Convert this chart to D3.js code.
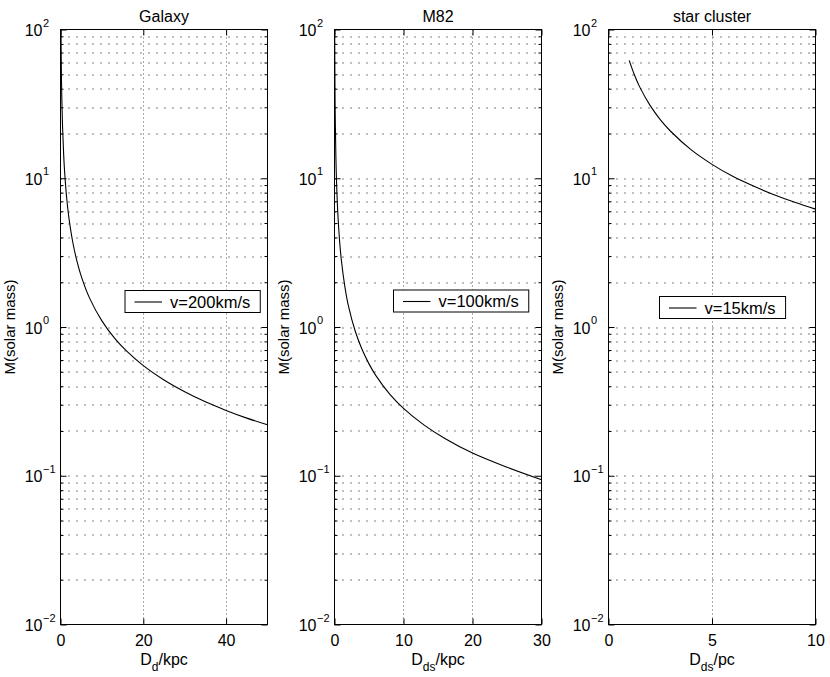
<!DOCTYPE html>
<html>
<head>
<meta charset="utf-8">
<script src="https://cdn.jsdelivr.net/npm/d3@7"></script>
<style>
  body { margin: 0; background: #fff; }
  svg { display: block; font-family: "Liberation Sans", Arial, Helvetica, sans-serif; }
</style>
</head>
<body>
<svg id="chart" width="830" height="677"></svg>
<script>
"use strict";

// Galaxy, v=200km/s
var galaxyD = [0.11, 0.2, 0.3, 0.5, 0.75, 1, 1.5, 2, 3, 4, 5, 7, 10, 13, 16, 20, 25, 30, 35, 40, 45, 50];
var galaxyM = [100, 55, 36.7, 22, 14.7, 11, 7.33, 5.5, 3.67, 2.75, 2.2, 1.57, 1.1, 0.846, 0.688, 0.55, 0.44, 0.367, 0.314, 0.275, 0.244, 0.22];

// M82, v=100km/s
var m82D = [0.028, 0.05, 0.1, 0.2, 0.3, 0.5, 0.75, 1, 1.5, 2, 3, 4, 5, 6, 8, 10, 13, 16, 20, 25, 30];
var m82M = [100, 56, 28, 14, 9.3, 5.6, 3.73, 2.8, 1.87, 1.4, 0.94, 0.705, 0.565, 0.471, 0.354, 0.284, 0.219, 0.178, 0.142, 0.114, 0.094];

// star cluster, v=15km/s
var clusterD = [1, 1.25, 1.5, 2, 2.5, 3, 4, 5, 6, 7, 8, 9, 10];
var clusterM = [62, 49.6, 41.3, 31, 24.8, 20.7, 15.5, 12.4, 10.3, 8.86, 7.75, 6.89, 6.2];

var titles = ["Galaxy", "M82", "star cluster"];
var legendLabels = ["v=200km/s", "v=100km/s", "v=15km/s"];
var xMax = [50, 30, 10];
var xTickValues = [[0, 20, 40], [0, 10, 20, 30], [0, 5, 10]];
var xLabelMain = ["D", "D", "D"];
var xLabelSub = ["d", "ds", "ds"];
var xLabelUnit = ["/kpc", "/kpc", "/pc"];
var yLabel = "M(solar mass)";
var yDomain = [1e-2, 1e2];

var seriesD = [galaxyD, m82D, clusterD];
var seriesM = [galaxyM, m82M, clusterM];

// layout
var plotTop = 29.5, plotW = 207, plotH = 595;
var plotLeft = [60.5, 334.5, 608.5];
var legendAt = [[64.5, 261], [59, 260.5], [51, 267]];

var svg = d3.select("#chart");

function isDecade(v) {
  var l = Math.log10(v);
  return Math.abs(l - Math.round(l)) < 1e-9;
}

for (var p = 0; p < 3; p++) {
  var g = svg.append("g").attr("transform", "translate(" + plotLeft[p] + "," + plotTop + ")");

  var x = d3.scaleLinear().domain([0, xMax[p]]).range([0, plotW]);
  var y = d3.scaleLog().domain(yDomain).range([plotH, 0]);

  var allY = y.ticks();
  var majorY = allY.filter(isDecade);
  var minorY = allY.filter(function (v) { return !isDecade(v); });

  // grid
  g.append("g").selectAll("line").data(allY.filter(function (v) { return v > yDomain[0] && v < yDomain[1]; }))
    .enter().append("line")
      .attr("x1", 0).attr("x2", plotW)
      .attr("y1", function (d) { return Math.round(y(d)) + 0.5; })
      .attr("y2", function (d) { return Math.round(y(d)) + 0.5; })
      .attr("stroke", "#000").attr("stroke-width", 1)
      .attr("stroke-dasharray", "1,7");

  g.append("g").selectAll("line").data(xTickValues[p].filter(function (v) { return v > 0 && v < xMax[p]; }))
    .enter().append("line")
      .attr("x1", function (d) { return Math.round(x(d)); })
      .attr("x2", function (d) { return Math.round(x(d)); })
      .attr("y1", 0).attr("y2", plotH)
      .attr("stroke", "#555").attr("stroke-width", 1)
      .attr("stroke-dasharray", "1,3");

  // ticks, inside on all four sides
  var tickStyle = function (sel) {
    sel.select(".domain").remove();
    sel.selectAll(".tick line").attr("stroke", "#000");
  };
  g.append("g").call(d3.axisLeft(y).tickValues(majorY).tickSize(-6).tickFormat("")).call(tickStyle);
  g.append("g").call(d3.axisLeft(y).tickValues(minorY).tickSize(-3).tickFormat("")).call(tickStyle);
  g.append("g").attr("transform", "translate(" + plotW + ",0)")
    .call(d3.axisRight(y).tickValues(majorY).tickSize(-6).tickFormat("")).call(tickStyle);
  g.append("g").attr("transform", "translate(" + plotW + ",0)")
    .call(d3.axisRight(y).tickValues(minorY).tickSize(-3).tickFormat("")).call(tickStyle);
  g.append("g").call(d3.axisTop(x).tickValues(xTickValues[p]).tickSize(-6).tickFormat("")).call(tickStyle);

  var xAxis = g.append("g").attr("transform", "translate(0," + plotH + ")")
    .call(d3.axisBottom(x).tickValues(xTickValues[p]).tickSize(-6).tickPadding(10).tickFormat(d3.format("d")))
    .call(tickStyle);
  xAxis.selectAll("text")
    .attr("fill", "#000")
    .attr("font-size", 16)
    .attr("font-family", "Liberation Sans, Arial, sans-serif");

  // y tick labels: 10 with superscript exponent
  var yl = g.append("g").selectAll("g").data(majorY).enter().append("g");
  yl.append("text")
    .attr("x", -18).attr("y", function (d) { return y(d) + 6.5; })
    .attr("text-anchor", "end").attr("font-size", 16)
    .text("10");
  yl.append("text")
    .attr("x", -17.5).attr("y", function (d) { return y(d) - 3; })
    .attr("font-size", 11)
    .text(function (d) { var e = Math.round(Math.log10(d)); return e < 0 ? "\u2212" + (-e) : String(e); });

  // curve
  var clipId = "clip" + p;
  g.append("clipPath").attr("id", clipId).append("rect")
    .attr("x", 0).attr("y", 0).attr("width", plotW).attr("height", plotH);

  var pts = seriesD[p].map(function (d, i) { return [d, seriesM[p][i]]; });
  var line = d3.line()
    .x(function (d) { return x(d[0]); })
    .y(function (d) { return y(d[1]); })
    .curve(d3.curveCatmullRom.alpha(0.5));
  g.append("path")
    .datum(pts)
    .attr("clip-path", "url(#" + clipId + ")")
    .attr("fill", "none")
    .attr("stroke", "#000")
    .attr("stroke-width", 1.1)
    .attr("d", line);

  // box
  g.append("rect")
    .attr("x", 0).attr("y", 0).attr("width", plotW).attr("height", plotH)
    .attr("fill", "none").attr("stroke", "#000").attr("stroke-width", 1);

  // legend
  var lg = g.append("g").attr("transform", "translate(" + legendAt[p][0] + "," + legendAt[p][1] + ")");
  var lbox = lg.append("rect").attr("x", 0).attr("y", 0).attr("height", 22)
    .attr("fill", "#fff").attr("stroke", "#000").attr("stroke-width", 1);
  lg.append("line").attr("x1", 9.5).attr("x2", 37).attr("y1", 11.5).attr("y2", 11.5)
    .attr("stroke", "#000").attr("stroke-width", 1.1);
  var lt = lg.append("text").attr("x", 45).attr("y", 17).attr("font-size", 16.5).text(legendLabels[p]);
  lbox.attr("width", 45 + lt.node().getComputedTextLength() + 10);

  // title
  g.append("text")
    .attr("x", plotW / 2).attr("y", -8)
    .attr("text-anchor", "middle").attr("font-size", 16)
    .text(titles[p]);

  // x label with subscript
  var xl = g.append("text")
    .attr("x", plotW / 2).attr("y", plotH + 40)
    .attr("text-anchor", "middle").attr("font-size", 16);
  xl.append("tspan").text(xLabelMain[p]);
  xl.append("tspan").attr("font-size", 12).attr("dy", 6).text(xLabelSub[p]);
  xl.append("tspan").attr("dy", -6).text(xLabelUnit[p]);

  // y label
  g.append("text")
    .attr("transform", "translate(-45.5," + (plotH / 2) + ") rotate(-90)")
    .attr("text-anchor", "middle").attr("font-size", 15)
    .text(yLabel);
}
</script>
</body>
</html>
